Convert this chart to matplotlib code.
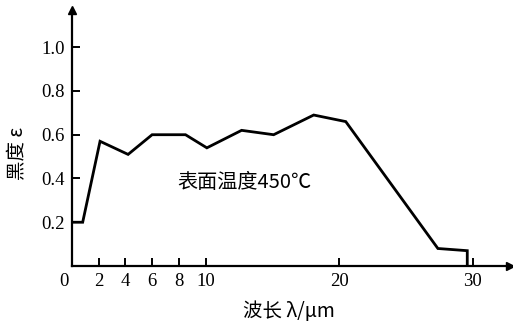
import matplotlib
matplotlib.use("Agg")
import matplotlib.pyplot as plt
import matplotlib.transforms as mtransforms

wavelength = [0.05, 0.8, 2.1, 4.2, 6.0, 8.5, 10.1, 12.7, 15.1, 18.1, 20.5, 27.4, 29.6, 29.6]
emissivity = [0.20, 0.20, 0.57, 0.51, 0.60, 0.60, 0.54, 0.62, 0.60, 0.69, 0.66, 0.08, 0.07, 0.0]
xticks = [0, 2, 4, 6, 8, 10, 20, 30]
yticks = [0.2, 0.4, 0.6, 0.8, 1.0]
ytick_labels = ["0.2", "0.4", "0.6", "0.8", "1.0"]

cjk = ["Noto Sans CJK SC", "DejaVu Sans"]
plt.rcParams["font.family"] = ["Liberation Serif", "DejaVu Serif"]

fig = plt.figure(figsize=(5.13, 3.26), dpi=100)
ax = fig.add_axes([72/513, 60/326, 438/513, 256/326])
ax.plot(wavelength, emissivity, color="black", lw=2.0, solid_joinstyle="miter")
ax.set_xlim(0, 32.8)
ax.set_ylim(0, 1.17)
for s in ["top", "right"]:
    ax.spines[s].set_visible(False)
for s in ["left", "bottom"]:
    ax.spines[s].set_linewidth(1.6)
ax.set_xticks(xticks)
ax.set_xticklabels([str(t) for t in xticks], fontsize=13.5)
ax.set_yticks(yticks)
ax.set_yticklabels(ytick_labels, fontsize=13.5)
ax.tick_params(direction="in", length=6, width=1.4, pad=5)
ax.tick_params(axis="x", pad=5)

# shift the "0" label slightly left of the origin
zero_lbl = ax.get_xticklabels()[0]
zero_lbl.set_transform(zero_lbl.get_transform() + mtransforms.ScaledTranslation(-8/100, 0, fig.dpi_scale_trans))

# arrows at axis ends
ax.plot([0], [1.17], marker="^", color="black", markersize=6, clip_on=False)
ax.plot([32.8], [0], marker=">", color="black", markersize=6, clip_on=False)

ax.text(12.9, 0.38, "表面温度450℃", fontfamily=cjk, fontsize=14.5, ha="center", va="center")
ax.set_xlabel("波长 λ/μm", fontfamily=cjk, fontsize=14)
ax.xaxis.set_label_coords(0.495, -0.135)
ax.set_ylabel("黑度 ε", fontfamily=cjk, fontsize=14)
ax.yaxis.set_label_coords(-0.1, 0.44)

fig.savefig("out.png", dpi=100)
